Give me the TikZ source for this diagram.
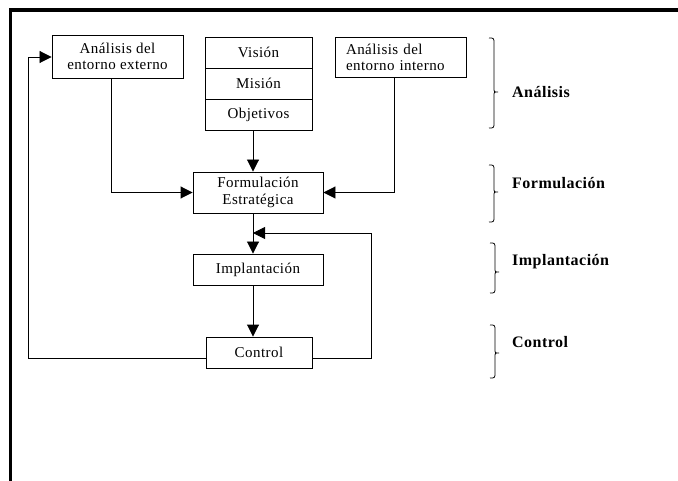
\documentclass[tikz,border=0pt]{standalone}
\usepackage{fontspec}
\setmainfont{Liberation Serif}
\newfontfamily\boxfont[LetterSpace=3]{Liberation Serif}
\newfontfamily\labfont[LetterSpace=3]{Liberation Serif}
\usetikzlibrary{arrows.meta}
\newcommand{\drawbracket}[4]{%
  \draw[bracestyle] (#1-5,#2) .. controls (#1,#2) .. (#1,#2+6) -- (#1,#3-4)
    .. controls (#1,#3) .. (#1+4,#3) .. controls (#1,#3) .. (#1,#3+4)
    -- (#1,#4-6) .. controls (#1,#4) .. (#1-5,#4);}
\begin{document}
\begin{tikzpicture}[x=1bp,y=-1bp,
  box/.style={draw, line width=0.9bp, inner sep=0pt,
    font=\boxfont\fontsize{15bp}{16bp}\selectfont, align=center},
  arr/.style={line width=0.9bp, -{Triangle[length=12bp,width=12bp]}},
  lab/.style={anchor=west, inner sep=0pt,
    font=\labfont\bfseries\fontsize{16bp}{18bp}\selectfont},
  bracestyle/.style={line width=0.8bp}]
\useasboundingbox (0,0) rectangle (678,481);
\fill[white] (0,0) rectangle (678,481);
\draw[line width=3.5bp] (10.5,481) -- (10.5,10) -- (678,10);

% boxes
\node[box, minimum width=131bp, minimum height=43bp] (ext) at (117.5,56.5) {Análisis del\\entorno externo};
\node[box, minimum width=107bp, minimum height=31bp] (vis) at (258.5,52.5) {Visión};
\node[box, minimum width=107bp, minimum height=31bp] (mis) at (258.5,83.5) {Misión};
\node[box, minimum width=107bp, minimum height=31bp] (obj) at (258.5,114.5) {Objetivos};
\node[box, minimum height=40bp, text width=109bp, inner xsep=11bp, align=left] (int) at (400.5,57.5) {Análisis del\\entorno interno};
\node[box, minimum width=130bp, minimum height=41bp,
  font=\boxfont\fontsize{15bp}{17bp}\selectfont] (form) at (258,192.5) {Formulación\\Estratégica};
\node[box, minimum width=130bp, minimum height=31bp] (impl) at (258,269.5) {Implantación};
\node[box, minimum width=106bp, minimum height=31bp] (ctrl) at (259,352.5) {Control};

% helper coordinates
\coordinate (cx) at (253,0);
\coordinate (xe) at (111,0);
\coordinate (xi) at (394,0);
\coordinate (xr) at (371,0);
\coordinate (xl) at (28,0);
\coordinate (yc) at (0,358);
\coordinate (yf) at (0,233);
\coordinate (ya) at (0,57);

% connectors
\draw[arr] (obj.south -| cx) -- (form.north -| cx);
\draw[arr] (ext.south -| xe) |- (form.west);
\draw[arr] (int.south -| xi) |- (form.east);
\draw[arr] (form.south -| cx) -- (impl.north -| cx);
\draw[arr] (impl.south -| cx) -- (ctrl.north -| cx);
\draw[arr] (ctrl.east |- yc) -- (xr |- yc) -- (xr |- yf) -- (cx |- yf);
\draw[arr] (ctrl.west |- yc) -- (xl |- yc) -- (xl |- ya) -- (ext.west |- ya);

% braces
\drawbracket{494}{38}{92}{128}
\drawbracket{494}{165}{192}{222}
\drawbracket{495}{243}{272}{293}
\drawbracket{495}{325}{353}{378}

% labels
\node[lab] (la) at (512,92) {Análisis};
\node[lab] (lf) at (512,183) {Formulación};
\node[lab] (li) at (512,262) {Implantación};
\node[lab] (lc) at (512,342) {Control};
\end{tikzpicture}
\end{document}
